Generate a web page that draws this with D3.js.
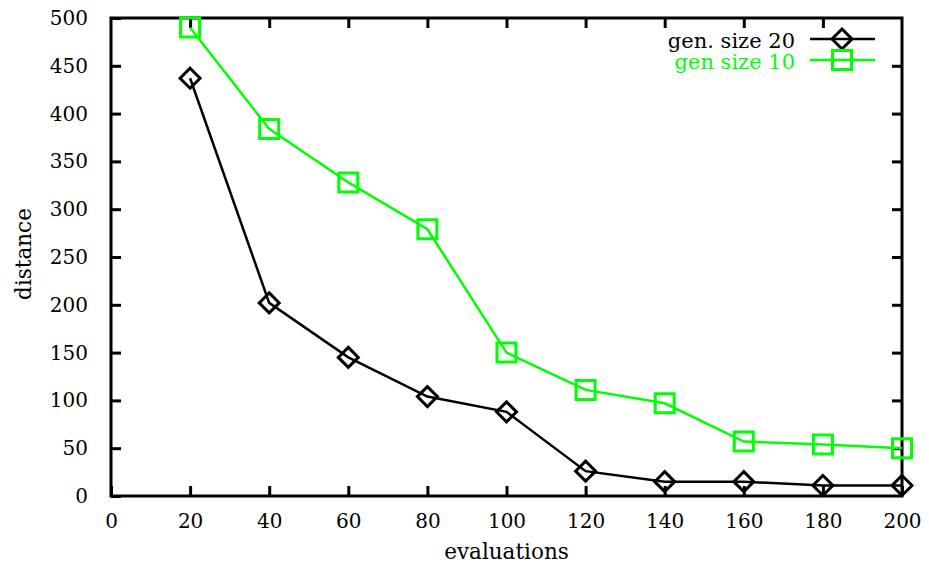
<!DOCTYPE html>
<html>
<head>
<meta charset="utf-8">
<script src="https://cdn.jsdelivr.net/npm/d3@7"></script>
<style>
  body { margin: 0; background: #fff; }
</style>
</head>
<body>
<div id="chart"></div>
<script>
const evaluations = [20, 40, 60, 80, 100, 120, 140, 160, 180, 200];
const genSize20 = [437, 202, 145, 104, 88, 26, 15, 15, 11, 11];
const genSize10 = [490, 384, 328, 279, 150, 111, 97, 57, 54, 50];
const xTicks = [0, 20, 40, 60, 80, 100, 120, 140, 160, 180, 200];
const yTicks = [0, 50, 100, 150, 200, 250, 300, 350, 400, 450, 500];

const FONT = 'DejaVu Serif, serif';
const width = 929, height = 565;
const margin = { top: 18, right: 27, bottom: 69, left: 111 };
const innerW = width - margin.left - margin.right,
  innerH = height - margin.top - margin.bottom;

const svg = d3.select('#chart')
  .append('svg')
  .attr('width', width)
  .attr('height', height)
  .attr('font-family', FONT);

const g = svg.append('g')
  .attr('transform', `translate(${margin.left},${margin.top})`);

const x = d3.scaleLinear().domain([0, 200]).range([0, innerW]);
const y = d3.scaleLinear().domain([0, 500]).range([innerH, 0]);

const tickLen = 10;

// ticks point inward on all four sides
g.append('g')
  .attr('transform', `translate(0,${innerH})`)
  .call(d3.axisBottom(x).tickValues(xTicks).tickSize(-tickLen).tickPadding(tickLen + 8).tickSizeOuter(0))
  .call(a => a.select('.domain').remove());
g.append('g')
  .call(d3.axisTop(x).tickValues(xTicks.slice(1, -1)).tickSize(-tickLen).tickFormat('').tickSizeOuter(0))
  .call(a => a.select('.domain').remove());
g.append('g')
  .call(d3.axisLeft(y).tickValues(yTicks).tickSize(-tickLen).tickPadding(tickLen + 13).tickSizeOuter(0))
  .call(a => a.select('.domain').remove());
g.append('g')
  .attr('transform', `translate(${innerW},0)`)
  .call(d3.axisRight(y).tickValues(yTicks.slice(1, -1)).tickSize(-tickLen).tickFormat('').tickSizeOuter(0))
  .call(a => a.select('.domain').remove());

g.selectAll('g').attr('font-family', FONT).attr('font-size', 20);
g.selectAll('.tick line').attr('stroke', '#000').attr('stroke-width', 3);
g.selectAll('.tick text').attr('fill', '#000');

g.append('rect')
  .attr('width', innerW).attr('height', innerH)
  .attr('fill', 'none').attr('stroke', '#000').attr('stroke-width', 3);

const line = d3.line().x(d => x(d[0])).y(d => y(d[1]));
const diamond = 'M0,-10L10,0L0,10L-10,0Z';
const square = 'M-9.5,-9.5H9.5V9.5H-9.5Z';

const series = [
  { name: 'gen. size 20', values: genSize20, color: '#000', marker: diamond },
  { name: 'gen size 10', values: genSize10, color: '#00ff00', marker: square }
];

series.forEach(s => {
  const pts = evaluations.map((e, i) => [e, s.values[i]]);
  g.append('path')
    .datum(pts)
    .attr('d', line)
    .attr('fill', 'none')
    .attr('stroke', s.color)
    .attr('stroke-width', 2.5);
  g.selectAll(null)
    .data(pts)
    .enter().append('path')
    .attr('d', s.marker)
    .attr('transform', d => `translate(${x(d[0])},${y(d[1])})`)
    .attr('fill', 'none')
    .attr('stroke', s.color)
    .attr('stroke-width', 3);
});

// legend
const legend = svg.append('g');
series.forEach((s, i) => {
  const ly = 39 + i * 21;
  legend.append('text')
    .attr('x', 795).attr('y', ly + 9)
    .attr('text-anchor', 'end')
    .attr('font-size', 21)
    .attr('fill', s.color)
    .text(s.name);
  legend.append('line')
    .attr('x1', 810).attr('x2', 875)
    .attr('y1', ly).attr('y2', ly)
    .attr('stroke', s.color).attr('stroke-width', 2.5);
  legend.append('path')
    .attr('d', s.marker)
    .attr('transform', `translate(842,${ly})`)
    .attr('fill', 'none').attr('stroke', s.color).attr('stroke-width', 3);
});

svg.append('text')
  .attr('transform', `translate(31,${margin.top + innerH / 2 - 3}) rotate(-90)`)
  .attr('text-anchor', 'middle')
  .attr('font-size', 21.5)
  .text('distance');

svg.append('text')
  .attr('x', margin.left + innerW / 2)
  .attr('y', 559)
  .attr('text-anchor', 'middle')
  .attr('font-size', 21.5)
  .text('evaluations');
</script>
</body>
</html>
